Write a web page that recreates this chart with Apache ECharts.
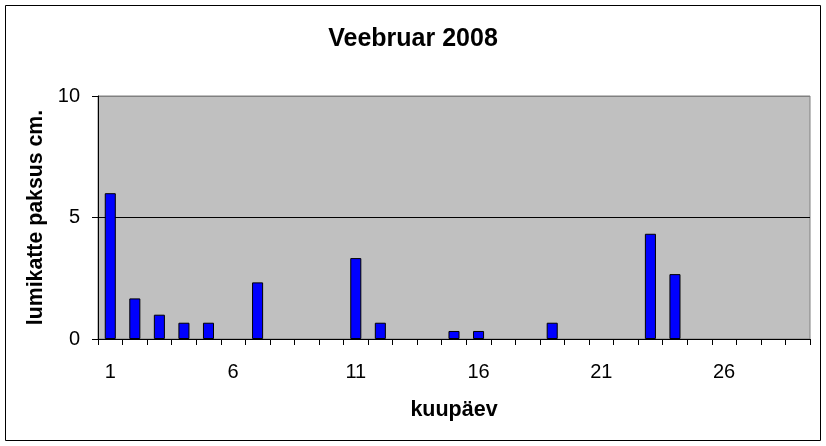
<!DOCTYPE html>
<html><head><meta charset="utf-8">
<script src="https://cdn.jsdelivr.net/npm/echarts@6/dist/echarts.min.js"></script>
<style>html,body{margin:0;padding:0;background:#fff}#c{width:826px;height:446px}</style>
</head><body><div id="c"></div>
<script>
const days = [];
for (let d = 1; d <= 29; d++) days.push(String(d));
const snowDepth = [6.0, 1.67, 1.0, 0.67, 0.67, 0, 2.33, 0, 0, 0, 3.33, 0.67, 0, 0, 0.33, 0.33, 0, 0, 0.67, 0, 0, 0, 4.33, 2.67, 0, 0, 0, 0, 0];
const yTicks = [0, 5, 10];
const titleText = 'Veebruar 2008';
const xName = 'kuupäev';
const yName = 'lumikatte paksus cm.';

const chart = echarts.init(document.getElementById('c'), null, {renderer: 'canvas'});
const font = '"Liberation Sans", Arial, sans-serif';
const barData = snowDepth.map(v => v === 0 ? {value: v, itemStyle: {borderWidth: 0}} : v);
chart.setOption({
  animation: false,
  backgroundColor: '#fff',
  title: {text: titleText, left: 'center', top: 22, textStyle: {fontFamily: font, fontSize: 25, fontWeight: 'bold', color: '#000'}},
  graphic: [{type: 'rect', shape: {x: 5.5, y: 5.5, width: 815, height: 435}, style: {fill: 'none', stroke: '#000', lineWidth: 1}, silent: true, z: 100}],
  grid: {left: 98, right: 16, top: 96, bottom: 107, show: true, backgroundColor: '#c0c0c0', borderColor: '#808080', borderWidth: 1},
  xAxis: {
    type: 'category', data: days, boundaryGap: true,
    name: xName, nameLocation: 'middle', nameGap: 60,
    nameTextStyle: {fontFamily: font, fontSize: 21.5, fontWeight: 'bold', color: '#000'},
    axisLine: {lineStyle: {color: '#000', width: 1}},
    axisTick: {show: true, interval: 0, length: 6, lineStyle: {color: '#000'}},
    axisLabel: {interval: 4, fontFamily: font, fontSize: 20, color: '#000', margin: 23},
    splitLine: {show: false}
  },
  yAxis: {
    type: 'value', min: yTicks[0], max: yTicks[yTicks.length - 1], interval: 5,
    name: yName, nameLocation: 'middle', nameGap: 51, nameRotate: 90,
    nameTextStyle: {fontFamily: font, fontSize: 21.3, fontWeight: 'bold', color: '#000'},
    axisLine: {show: true, lineStyle: {color: '#000', width: 1}},
    axisTick: {show: true, length: 6, lineStyle: {color: '#000'}},
    axisLabel: {fontFamily: font, fontSize: 20, color: '#000', margin: 18},
    splitLine: {show: true, lineStyle: {color: ['transparent', '#000', '#808080'], width: 1}}
  },
  series: [{
    type: 'bar', data: barData, barWidth: '45%',
    itemStyle: {color: '#0000ff', borderColor: '#000', borderWidth: 1}
  }]
});
</script></body></html>
